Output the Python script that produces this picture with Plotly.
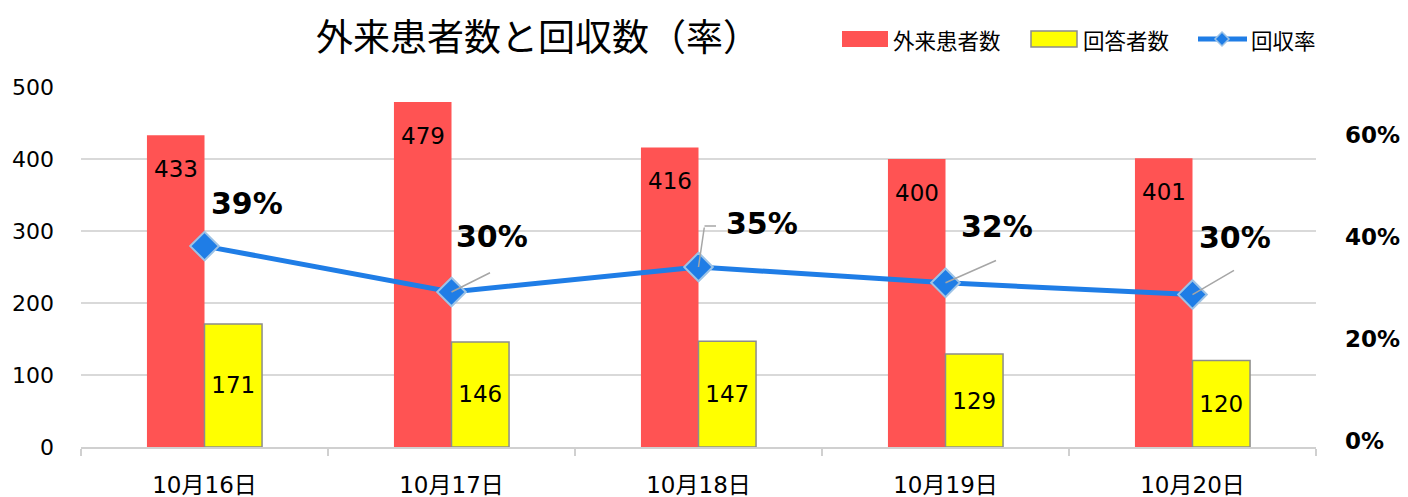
import plotly.graph_objects as go

categories = ["10月16日", "10月17日", "10月18日", "10月19日", "10月20日"]
patients = [433, 479, 416, 400, 401]
respondents = [171, 146, 147, 129, 120]
rate = [0.394, 0.304, 0.353, 0.322, 0.299]
left_ticks = [0, 100, 200, 300, 400, 500]
right_ticks = [0, 0.2, 0.4, 0.6]

# label placement offsets (pixels) for the rate labels
rate_label_offsets = [(42, 43), (40, 55), (63, 44), (51, 56), (42, 57)]

RED = "#FF5353"
YELLOW = "#FFFF00"
BLUE = "#1F7DE6"
NUM_FONT = "DejaVu Sans, Noto Sans CJK JP"
CJK_FONT = "Noto Sans CJK JP"

fig = go.Figure()
fig.add_trace(go.Bar(
    x=categories, y=patients, name="外来患者数",
    marker=dict(color=RED, line=dict(width=0)),
))
fig.add_trace(go.Bar(
    x=categories, y=respondents, name="回答者数",
    marker=dict(color=YELLOW, line=dict(color="#8c8c8c", width=1.5)),
    text=[str(v) for v in respondents], textposition="inside",
    insidetextanchor="middle", textangle=0, constraintext="none",
    insidetextfont=dict(family=NUM_FONT, size=23, color="black"),
))
fig.add_trace(go.Scatter(
    x=categories, y=rate, name="回収率", yaxis="y2", mode="lines+markers",
    line=dict(color=BLUE, width=5),
    marker=dict(symbol="diamond", size=22, color=BLUE,
                line=dict(color="#9DC3E6", width=2)),
))

annotations = []
# red bar labels (inside end)
for c, v in zip(categories, patients):
    annotations.append(dict(x=c, y=v, xref="x", yref="y", text=str(v),
                            showarrow=False, xshift=-29, yshift=-34,
                            font=dict(family=NUM_FONT, size=23, color="black")))
# rate labels
for c, r, (dx, dy) in zip(categories, rate, rate_label_offsets):
    annotations.append(dict(x=c, y=r, xref="x", yref="y2",
                            text=f"<b>{round(r * 100)}%</b>",
                            showarrow=False, xshift=dx, yshift=dy,
                            font=dict(family=NUM_FONT, size=30, color="black")))
# leader lines
leaders = [(1, 0, 0, 40, -20), (2, 0, 0, 6, -41), (2, 6, 41, 13, 0),
           (3, 0, 0, 52, -23), (4, 0, 0, 43, -25)]
for i, xs, ys, ax, ay in leaders:
    annotations.append(dict(x=categories[i], y=rate[i], xref="x", yref="y2",
                            text="", showarrow=True, arrowhead=0, arrowwidth=1.5,
                            arrowcolor="#A6A6A6", ax=ax, ay=ay, standoff=0,
                            startstandoff=0, xshift=xs, yshift=ys,
                            font=dict(size=1)))

W, H = 1408, 497
L, R, T, B = 81, 92, 87, 50
pw, ph = W - L - R, H - T - B


def px(x):
    return (x - L) / pw


def py(y):
    return (H - B - y) / ph


annotations.append(dict(x=px(538), y=py(35), xref="paper", yref="paper",
                        xanchor="center", yanchor="middle",
                        text="外来患者数と回収数（率）", showarrow=False,
                        font=dict(family=CJK_FONT, size=37, color="black")))

# custom legend
shapes = [
    dict(type="rect", xref="paper", yref="paper", x0=px(842), x1=px(888), y0=py(47), y1=py(31),
         fillcolor=RED, line=dict(width=0)),
    dict(type="rect", xref="paper", yref="paper", x0=px(1031), x1=px(1077), y0=py(47), y1=py(31),
         fillcolor=YELLOW, line=dict(color="#8c8c8c", width=1.5)),
    dict(type="line", xref="paper", yref="paper", x0=px(1198), x1=px(1247), y0=py(39), y1=py(39),
         line=dict(color=BLUE, width=5)),
    dict(type="path", xref="paper", yref="paper",
         path=f"M {px(1222)} {py(32)} L {px(1229)} {py(39)} L {px(1222)} {py(46)} L {px(1215)} {py(39)} Z",
         fillcolor=BLUE, line=dict(color="#9DC3E6", width=1.5)),
]
for txt, x0 in [("外来患者数", 891), ("回答者数", 1081), ("回収率", 1249)]:
    annotations.append(dict(x=px(x0), y=py(39), xref="paper", yref="paper", text=txt,
                            showarrow=False, xanchor="left", yanchor="middle",
                            font=dict(family=CJK_FONT, size=21.5, color="black")))

fig.update_layout(
    width=W, height=H,
    margin=dict(l=L, r=R, t=T, b=B, autoexpand=False),
    paper_bgcolor="white", plot_bgcolor="white",
    barmode="group", bargap=0.534, bargroupgap=0,
    showlegend=False,
    font=dict(family=NUM_FONT, color="black"),
    xaxis=dict(type="category", tickson="boundaries", ticks="outside", ticklen=7,
               tickcolor="#D0D0D0", tickwidth=1.5, showline=True, linecolor="#D0D0D0",
               linewidth=1.5, showgrid=False, ticklabelstandoff=17, automargin=False,
               tickfont=dict(family=NUM_FONT, size=23, color="black")),
    yaxis=dict(range=[0, 500], tickvals=left_ticks, showgrid=True, gridcolor="#D9D9D9",
               gridwidth=1.5, zeroline=False, showline=False, ticks="",
               ticklabelstandoff=26, automargin=False,
               tickfont=dict(family=NUM_FONT, size=22, color="black")),
    yaxis2=dict(range=[0, 0.706], tickvals=right_ticks, tickformat=".0%", overlaying="y",
                side="right", showgrid=False, zeroline=False, showline=False, ticks="",
                ticklabelstandoff=28, ticklabelshift=-6, automargin=False,
                tickfont=dict(family=NUM_FONT, size=23, color="black", weight="bold")),
    annotations=annotations,
    shapes=shapes,
)

fig.write_html(
    "out.html",
    config={"displayModeBar": False},
    post_script="document.body.style.margin='0';document.body.style.padding='0';"
                "document.body.style.overflow='hidden';",
)
